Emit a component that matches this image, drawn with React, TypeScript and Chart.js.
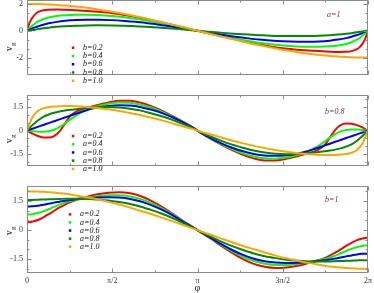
import React, { useEffect, useRef } from "react";
import { Chart, registerables } from "chart.js";

Chart.register(...registerables);

const TWO_PI = 6.283185;

// ---------- data ----------
const phiTop = [0, 0.03, 0.06, 0.1, 0.15, 0.2, 0.3, 0.4, 0.55, 0.7, 0.9, 1.1, 1.3, 1.57, 1.8, 2.0, 2.2, 2.4, 2.6, 2.8, 3.0, 3.1416,
  3.28, 3.48, 3.68, 3.88, 4.08, 4.28, 4.48, 4.71, 4.98, 5.18, 5.38, 5.58, 5.73, 5.88, 5.98, 6.08, 6.13, 6.18, 6.22, 6.25, 6.2832];

const topB02 = [0, 0.40, 0.70, 0.98, 1.22, 1.38, 1.52, 1.57, 1.58, 1.56, 1.52, 1.47, 1.41, 1.31, 1.17, 1.03, 0.86, 0.68, 0.50, 0.32, 0.13, 0,
  -0.13, -0.32, -0.50, -0.68, -0.86, -1.03, -1.17, -1.31, -1.41, -1.47, -1.52, -1.56, -1.58, -1.57, -1.52, -1.38, -1.22, -0.98, -0.70, -0.40, 0];
const topB04 = [0, 0.12, 0.24, 0.38, 0.54, 0.67, 0.86, 0.99, 1.10, 1.16, 1.19, 1.19, 1.17, 1.10, 1.00, 0.90, 0.77, 0.62, 0.46, 0.29, 0.12, 0,
  -0.12, -0.29, -0.46, -0.62, -0.77, -0.90, -1.00, -1.10, -1.17, -1.19, -1.19, -1.16, -1.10, -0.99, -0.86, -0.67, -0.54, -0.38, -0.24, -0.12, 0];
const topB06 = [0, 0.04, 0.09, 0.17, 0.25, 0.32, 0.45, 0.55, 0.66, 0.74, 0.80, 0.82, 0.82, 0.79, 0.73, 0.66, 0.57, 0.47, 0.35, 0.22, 0.09, 0,
  -0.09, -0.22, -0.35, -0.47, -0.57, -0.66, -0.73, -0.79, -0.82, -0.82, -0.80, -0.74, -0.66, -0.55, -0.45, -0.32, -0.25, -0.17, -0.09, -0.04, 0];
const topB08 = [0, 0.01, 0.03, 0.05, 0.08, 0.12, 0.18, 0.23, 0.29, 0.33, 0.37, 0.39, 0.40, 0.39, 0.37, 0.33, 0.29, 0.24, 0.18, 0.12, 0.05, 0,
  -0.05, -0.12, -0.18, -0.24, -0.29, -0.33, -0.37, -0.39, -0.40, -0.39, -0.37, -0.33, -0.29, -0.23, -0.18, -0.12, -0.08, -0.05, -0.03, -0.01, 0];
const topB10 = [2.0, 2.0, 2.0, 2.0, 1.99, 1.99, 1.98, 1.96, 1.92, 1.88, 1.80, 1.71, 1.59, 1.41, 1.24, 1.08, 0.91, 0.72, 0.53, 0.34, 0.14, 0,
  -0.14, -0.34, -0.53, -0.72, -0.91, -1.08, -1.24, -1.41, -1.59, -1.71, -1.80, -1.88, -1.92, -1.96, -1.98, -1.99, -1.99, -2.0, -2.0, -2.0, -2.0];

const phiMid = [0, 0.05, 0.1, 0.2, 0.3, 0.4, 0.5, 0.6, 0.7, 0.8, 0.9, 1.0, 1.15, 1.3, 1.5, 1.7, 1.9, 2.1, 2.3, 2.5, 2.7, 2.9, 3.05, 3.1416,
  3.23, 3.38, 3.58, 3.78, 3.98, 4.18, 4.38, 4.58, 4.78, 4.98, 5.13, 5.28, 5.38, 5.48, 5.58, 5.68, 5.78, 5.88, 5.98, 6.08, 6.18, 6.23, 6.2832];

const midA02 = [0, -0.10, -0.20, -0.35, -0.44, -0.45, -0.35, -0.05, 0.45, 0.95, 1.20, 1.35, 1.50, 1.64, 1.80, 1.91, 1.91, 1.78, 1.55, 1.25, 0.90, 0.52, 0.21, 0,
  -0.21, -0.52, -0.90, -1.25, -1.55, -1.78, -1.91, -1.91, -1.80, -1.64, -1.50, -1.35, -1.20, -0.95, -0.45, 0.05, 0.35, 0.45, 0.44, 0.35, 0.20, 0.10, 0];
const midA04 = [0, -0.02, -0.04, -0.07, -0.07, -0.04, 0.05, 0.22, 0.45, 0.72, 0.96, 1.16, 1.42, 1.57, 1.72, 1.80, 1.78, 1.66, 1.46, 1.18, 0.86, 0.50, 0.20, 0,
  -0.20, -0.50, -0.86, -1.18, -1.46, -1.66, -1.78, -1.80, -1.72, -1.57, -1.42, -1.16, -0.96, -0.72, -0.45, -0.22, -0.05, 0.04, 0.07, 0.07, 0.04, 0.02, 0];
const midA06 = [0, 0.06, 0.12, 0.24, 0.36, 0.48, 0.60, 0.72, 0.84, 0.96, 1.08, 1.19, 1.36, 1.48, 1.58, 1.62, 1.60, 1.50, 1.33, 1.10, 0.82, 0.48, 0.20, 0,
  -0.20, -0.48, -0.82, -1.10, -1.33, -1.50, -1.60, -1.62, -1.58, -1.48, -1.36, -1.19, -1.08, -0.96, -0.84, -0.72, -0.60, -0.48, -0.36, -0.24, -0.12, -0.06, 0];
const midA08 = [0, 0.18, 0.35, 0.65, 0.88, 1.03, 1.14, 1.22, 1.28, 1.33, 1.37, 1.41, 1.46, 1.50, 1.51, 1.48, 1.40, 1.28, 1.10, 0.90, 0.66, 0.38, 0.16, 0,
  -0.16, -0.38, -0.66, -0.90, -1.10, -1.28, -1.40, -1.48, -1.51, -1.50, -1.46, -1.41, -1.37, -1.33, -1.28, -1.22, -1.14, -1.03, -0.88, -0.65, -0.35, -0.18, 0];
const midA10 = [0, 0.45, 0.85, 1.25, 1.42, 1.50, 1.54, 1.56, 1.57, 1.57, 1.56, 1.54, 1.50, 1.45, 1.36, 1.25, 1.12, 0.98, 0.82, 0.64, 0.44, 0.24, 0.10, 0,
  -0.10, -0.24, -0.44, -0.64, -0.82, -0.98, -1.12, -1.25, -1.36, -1.45, -1.50, -1.54, -1.56, -1.57, -1.57, -1.56, -1.54, -1.50, -1.42, -1.25, -0.85, -0.45, 0];

const botA02 = [0.40, 0.41, 0.44, 0.52, 0.66, 0.82, 1.00, 1.17, 1.32, 1.45, 1.55, 1.62, 1.75, 1.85, 1.93, 1.96, 1.90, 1.75, 1.50, 1.18, 0.82, 0.43, 0.17, 0,
  -0.17, -0.43, -0.82, -1.18, -1.50, -1.75, -1.90, -1.96, -1.93, -1.85, -1.75, -1.62, -1.55, -1.45, -1.32, -1.17, -1.00, -0.82, -0.66, -0.52, -0.44, -0.41, -0.40];
const botA04 = [0.80, 0.80, 0.82, 0.88, 0.97, 1.08, 1.20, 1.32, 1.42, 1.50, 1.57, 1.62, 1.69, 1.75, 1.80, 1.80, 1.74, 1.60, 1.38, 1.10, 0.77, 0.41, 0.16, 0,
  -0.16, -0.41, -0.77, -1.10, -1.38, -1.60, -1.74, -1.80, -1.80, -1.75, -1.69, -1.62, -1.57, -1.50, -1.42, -1.32, -1.20, -1.08, -0.97, -0.88, -0.82, -0.80, -0.80];
const botA06 = [1.22, 1.22, 1.23, 1.26, 1.31, 1.36, 1.42, 1.47, 1.52, 1.56, 1.60, 1.63, 1.66, 1.69, 1.70, 1.68, 1.61, 1.48, 1.28, 1.03, 0.73, 0.39, 0.15, 0,
  -0.15, -0.39, -0.73, -1.03, -1.28, -1.48, -1.61, -1.68, -1.70, -1.69, -1.66, -1.63, -1.60, -1.56, -1.52, -1.47, -1.42, -1.36, -1.31, -1.26, -1.23, -1.22, -1.22];
const botA08 = [1.56, 1.56, 1.56, 1.57, 1.58, 1.59, 1.60, 1.61, 1.62, 1.62, 1.62, 1.62, 1.61, 1.58, 1.53, 1.45, 1.35, 1.21, 1.03, 0.83, 0.60, 0.33, 0.13, 0,
  -0.13, -0.33, -0.60, -0.83, -1.03, -1.21, -1.35, -1.45, -1.53, -1.58, -1.61, -1.62, -1.62, -1.62, -1.62, -1.61, -1.60, -1.59, -1.58, -1.57, -1.56, -1.56, -1.56];
const botA10 = [2.00, 2.00, 2.00, 1.99, 1.98, 1.96, 1.94, 1.91, 1.88, 1.84, 1.79, 1.74, 1.67, 1.59, 1.46, 1.32, 1.16, 0.99, 0.82, 0.63, 0.44, 0.24, 0.09, 0,
  -0.09, -0.24, -0.44, -0.63, -0.82, -0.99, -1.16, -1.32, -1.46, -1.59, -1.67, -1.74, -1.79, -1.84, -1.88, -1.91, -1.94, -1.96, -1.98, -1.99, -2.00, -2.00, -2.00];

const namesB = ["b=0.2", "b=0.4", "b=0.6", "b=0.8", "b=1.0"];
const namesA = ["a=0.2", "a=0.4", "a=0.6", "a=0.8", "a=1.0"];
const xTickValues = [0, Math.PI / 2, Math.PI, (3 * Math.PI) / 2, TWO_PI];
const xTickLabels = ["0", "π/2", "π", "3π/2", "2π"];
const yTicksTop = [-2, 0, 2];
const yTicksMid = [-1.5, 0, 1.5];
const yTicksBot = [-1.5, 0, 1.5];

// ---------- styles ----------
const COLORS = ["#ff0000", "#00ff00", "#0000ff", "#008b00", "#ffa500"];
const SERIF = "'Liberation Serif', 'Times New Roman', 'DejaVu Serif', serif";
const NOTE_COLOR = "#7a2a6a";

type Panel = {
  phi: number[];
  series: number[][];
  names: string[];
  note: string;
  yMin: number;
  yMax: number;
  yTicks: number[];
  yStep: number;
  padTop: number;
  padBottom: number;
  showX: boolean;
  legendX: number;
  legendY: number;
  legendStep: number;
  noteX: number;
  noteY: number;
  titleY: number;
};

const panels: Panel[] = [
  {
    phi: phiTop, series: [topB02, topB04, topB06, topB08, topB10], names: namesB, note: "a=1",
    yMin: -3.3, yMax: 2.29, yTicks: yTicksTop, yStep: 2 / 3,
    padTop: 0, padBottom: 198, showX: false,
    legendX: 73, legendY: 47.7, legendStep: 8.25, noteX: 327, noteY: 14.7, titleY: 47,
  },
  {
    phi: phiMid, series: [midA02, midA04, midA06, midA08, midA10], names: namesA, note: "b=0.8",
    yMin: -2.27, yMax: 2.28, yTicks: yTicksMid, yStep: 0.5,
    padTop: 95, padBottom: 107, showX: false,
    legendX: 73, legendY: 136, legendStep: 8.2, noteX: 325, noteY: 111.7, titleY: 139,
  },
  {
    phi: phiMid, series: [botA02, botA04, botA06, botA08, botA10], names: namesA, note: "b=1",
    yMin: -2.22, yMax: 2.28, yTicks: yTicksBot, yStep: 0.5,
    padTop: 186, padBottom: 0, showX: true,
    legendX: 70, legendY: 214.3, legendStep: 8.1, noteX: 325, noteY: 200, titleY: 231,
  },
];

function fmt(v: number): string {
  if (v === 0) return "0";
  return String(v);
}

function decor(p: Panel) {
  return {
    id: "decor",
    afterDatasetsDraw(chart: any) {
      const { ctx, chartArea: a, scales } = chart;
      const xs = scales.x;
      const ys = scales.y;
      ctx.save();
      ctx.strokeStyle = "#8a8a8a";
      ctx.lineWidth = 1;
      const L = Math.round(a.left) + 0.5;
      const R = Math.round(a.right) - 0.5;
      const T = Math.round(a.top) + 0.5;
      const B = Math.round(a.bottom) - 0.5;
      ctx.strokeRect(L, T, R - L, B - T);
      ctx.beginPath();
      for (let k = 0; k <= 8; k++) {
        const px = Math.round(xs.getPixelForValue((k * Math.PI) / 4)) + 0.5;
        const len = k % 2 === 0 ? 4 : 2;
        ctx.moveTo(px, T);
        ctx.lineTo(px, T + len);
        ctx.moveTo(px, B);
        ctx.lineTo(px, B - len);
      }
      const n0 = Math.ceil(p.yMin / p.yStep - 1e-6);
      const n1 = Math.floor(p.yMax / p.yStep + 1e-6);
      for (let n = n0; n <= n1; n++) {
        const v = n * p.yStep;
        const py = Math.round(ys.getPixelForValue(v)) + 0.5;
        const major = p.yTicks.some((t) => Math.abs(t - v) < 1e-6);
        const len = major ? 4 : 2;
        ctx.moveTo(L, py);
        ctx.lineTo(L + len, py);
        ctx.moveTo(R, py);
        ctx.lineTo(R - len, py);
      }
      ctx.stroke();
      ctx.restore();
    },
    afterDraw(chart: any) {
      const { ctx } = chart;
      ctx.save();
      // legend
      ctx.textBaseline = "middle";
      ctx.textAlign = "left";
      ctx.font = `italic 8px ${SERIF}`;
      p.names.forEach((n, i) => {
        const yy = p.legendY + i * p.legendStep;
        ctx.fillStyle = COLORS[i];
        ctx.fillRect(p.legendX - 1.2, yy - 1.2, 2.5, 2.5);
        ctx.fillStyle = "#111";
        ctx.fillText(n, p.legendX + 10, yy);
      });
      // note
      ctx.fillStyle = NOTE_COLOR;
      ctx.fillText(p.note, p.noteX, p.noteY);
      // y title v_g
      ctx.fillStyle = "#222";
      ctx.translate(9, p.titleY);
      ctx.rotate(-Math.PI / 2);
      ctx.font = `10px ${SERIF}`;
      const wv = ctx.measureText("v").width;
      ctx.font = `7px ${SERIF}`;
      const wg = ctx.measureText("g").width;
      const start = -(wv + wg) / 2;
      ctx.font = `10px ${SERIF}`;
      ctx.textAlign = "left";
      ctx.textBaseline = "alphabetic";
      ctx.fillText("v", start, 3);
      ctx.font = `7px ${SERIF}`;
      ctx.fillText("g", start + wv + 0.3, 5.5);
      ctx.restore();
      if (p.showX) {
        ctx.save();
        ctx.fillStyle = "#222";
        ctx.font = `10px ${SERIF}`;
        ctx.textAlign = "center";
        ctx.textBaseline = "middle";
        const cx = chart.scales.x.getPixelForValue(Math.PI);
        ctx.fillText("φ", cx, 288);
        ctx.restore();
      }
    },
  };
}

function PanelChart({ p }: { p: Panel }) {
  const ref = useRef<HTMLCanvasElement>(null);
  useEffect(() => {
    if (!ref.current) return;
    const chart = new Chart(ref.current, {
      type: "line",
      data: {
        datasets: p.series.map((s, i) => ({
          label: p.names[i],
          data: p.phi.map((x, j) => ({ x, y: s[j] })),
          borderColor: COLORS[i],
          backgroundColor: COLORS[i],
          borderWidth: 2,
          pointRadius: 0,
          cubicInterpolationMode: "monotone" as const,
          fill: false,
          order: 4 - i,
        })),
      },
      options: {
        responsive: false,
        animation: false,
        devicePixelRatio: 1,
        events: [],
        layout: { padding: { top: p.padTop, bottom: p.padBottom, left: 0, right: 6 } },
        plugins: { legend: { display: false }, tooltip: { enabled: false } },
        scales: {
          x: {
            type: "linear",
            min: 0,
            max: TWO_PI,
            display: p.showX,
            grid: { display: false, drawTicks: false },
            border: { display: false },
            afterBuildTicks: (s: any) => {
              s.ticks = xTickValues.map((v) => ({ value: v }));
            },
            afterFit: (s: any) => {
              s.height = 20;
              s.paddingLeft = 0;
              s.paddingRight = 0;
            },
            ticks: {
              autoSkip: false,
              maxRotation: 0,
              padding: 3,
              color: "#333",
              font: { family: SERIF, size: 8 },
              callback: (_v: any, i: number) => xTickLabels[i],
            },
          },
          y: {
            type: "linear",
            min: p.yMin,
            max: p.yMax,
            grid: { display: false, drawTicks: false },
            border: { display: false },
            afterBuildTicks: (s: any) => {
              s.ticks = p.yTicks.map((v) => ({ value: v }));
            },
            afterFit: (s: any) => {
              s.width = 27;
              s.paddingTop = 0;
              s.paddingBottom = 0;
            },
            ticks: {
              padding: 4,
              color: "#333",
              font: { family: SERIF, size: 8 },
              callback: (_v: any, i: number) => fmt(p.yTicks[i]),
            },
          },
        },
      },
      plugins: [decor(p)],
    } as any);
    return () => chart.destroy();
  }, [p]);
  return (
    <canvas
      ref={ref}
      width={374}
      height={293}
      style={{ position: "absolute", left: 0, top: 0, width: 374, height: 293 }}
    />
  );
}

export default function App() {
  return (
    <div style={{ position: "fixed", left: 0, top: 0, width: 374, height: 293, background: "#fff", overflow: "hidden" }}>
      {panels.map((p, i) => (
        <PanelChart key={i} p={p} />
      ))}
    </div>
  );
}
